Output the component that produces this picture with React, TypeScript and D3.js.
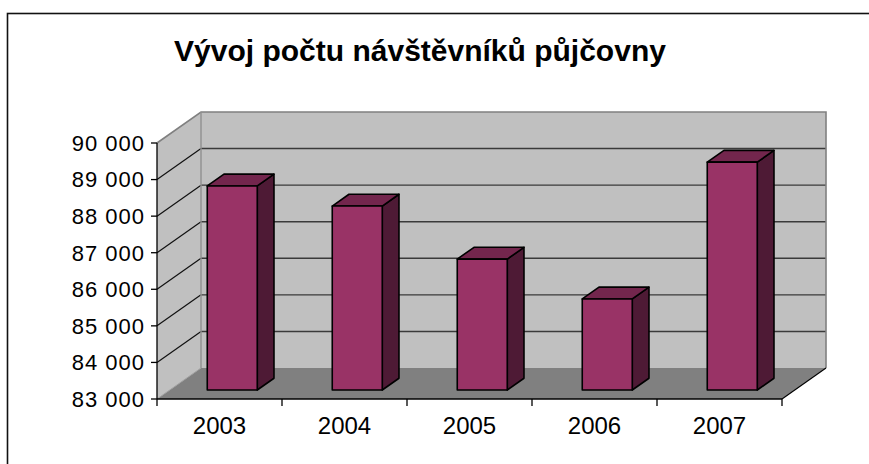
import React from 'react';
import * as d3 from 'd3';

// hodnoty
const years = ['2003', '2004', '2005', '2006', '2007'];
const visitors = [88580, 88030, 86580, 85490, 89230];
const yTicks = [83000, 84000, 85000, 86000, 87000, 88000, 89000, 90000];
const title = 'Vývoj počtu návštěvníků půjčovny';

const W = 869;
const H = 464;
const plot = { left: 157, right: 782, top: 143, bottom: 399 };
const DX = 44; // hloubka 3D
const DY = 31;
const barFront = 0.29;
const barBack = 0.67;

const cz = d3.formatLocale({ decimal: ',', thousands: ' ', grouping: [3], currency: ['', ' Kč'] });
const fmt = cz.format(',');

const font = 'Arial, "Liberation Sans", sans-serif';

function pts(p: [number, number][]) {
  return p.map(d => d.join(',')).join(' ');
}

export default function App() {
  const x = d3.scaleBand().domain(years).range([plot.left, plot.right]);
  const y = d3.scaleLinear().domain([83000, 90000]).range([plot.bottom, plot.top]);
  const bw = x.bandwidth();
  const barW = bw * 0.4;

  const ox = DX * barFront, oy = DY * barFront;
  const dx = DX * (barBack - barFront), dy = DY * (barBack - barFront);

  const L = plot.left, R = plot.right, T = plot.top, B = plot.bottom;

  return (
    <svg width={W} height={H} style={{ position: 'absolute', left: 0, top: 0, background: '#fff' }}>
      <rect x={7.5} y={13.5} width={1000} height={600} fill="#fff" stroke="#111" strokeWidth={1.6} />

      <text x={420} y={61} textAnchor="middle" fontFamily={font} fontWeight="bold" fontSize={30}>
        {title}
      </text>

      {/* levá stěna */}
      <polygon points={pts([[L, T], [L + DX, T - DY], [L + DX, B - DY], [L, B]])} fill="#c0c0c0" />
      {/* zadní stěna */}
      <rect x={L + DX} y={T - DY} width={R - L} height={B - T} fill="#c0c0c0" />
      {/* podlaha */}
      <polygon points={pts([[L, B], [R, B], [R + DX, B - DY], [L + DX, B - DY]])} fill="#808080" />

      {/* mřížka */}
      {yTicks.slice(1, -1).map(t => (
        <g key={t}>
          <line x1={L} y1={y(t)} x2={L + DX} y2={y(t) - DY} stroke="#111" strokeWidth={1.2} />
          <line x1={L + DX} y1={y(t) - DY} x2={R + DX} y2={y(t) - DY} stroke="#3a3a3a" strokeWidth={1.4} />
        </g>
      ))}

      {/* okraje stěn */}
      <polyline points={pts([[L, T], [L + DX, T - DY], [R + DX, T - DY], [R + DX, B - DY]])}
        fill="none" stroke="#808080" strokeWidth={1.6} />
      <line x1={L + DX} y1={T - DY} x2={L + DX} y2={B - DY} stroke="#909090" strokeWidth={1.4} />
      <line x1={L} y1={B} x2={L + DX} y2={B - DY} stroke="#a0a0a0" strokeWidth={1} />

      {/* sloupce */}
      {years.map((yr, i) => {
        const x0 = (x(yr) as number) + bw / 2 - barW / 2 + ox;
        const x1 = x0 + barW;
        const yt = y(visitors[i]) - oy;
        const yb = y(83000) - oy;
        return (
          <g key={yr} stroke="#000" strokeWidth={1.6} strokeLinejoin="round">
            <polygon points={pts([[x1, yt], [x1 + dx, yt - dy], [x1 + dx, yb - dy], [x1, yb]])} fill="#4e1a35" />
            <polygon points={pts([[x0, yt], [x1, yt], [x1 + dx, yt - dy], [x0 + dx, yt - dy]])} fill="#73264d" />
            <rect x={x0} y={yt} width={barW} height={yb - yt} fill="#993366" />
          </g>
        );
      })}

      {/* osy */}
      <line x1={L} y1={T} x2={L} y2={B} stroke="#000" strokeWidth={1.3} />
      <line x1={L} y1={B} x2={R} y2={B} stroke="#000" strokeWidth={1.3} />
      <line x1={R} y1={B} x2={R + DX} y2={B - DY} stroke="#000" strokeWidth={1.1} />
      {yTicks.map(t => (
        <g key={t}>
          <line x1={L - 6} y1={y(t)} x2={L} y2={y(t)} stroke="#000" strokeWidth={1.3} />
          <text x={L - 12} y={y(t)} dy="0.36em" textAnchor="end" fontFamily={font} fontSize={22}
            letterSpacing={1}>
            {fmt(t)}
          </text>
        </g>
      ))}
      {[...years.map(yr => x(yr) as number), R].map((v, i) => (
        <line key={i} x1={v} y1={B} x2={v} y2={B + 7} stroke="#000" strokeWidth={1.3} />
      ))}
      {years.map(yr => (
        <text key={yr} x={(x(yr) as number) + bw / 2} y={434} textAnchor="middle" fontFamily={font} fontSize={24}>
          {yr}
        </text>
      ))}
    </svg>
  );
}
